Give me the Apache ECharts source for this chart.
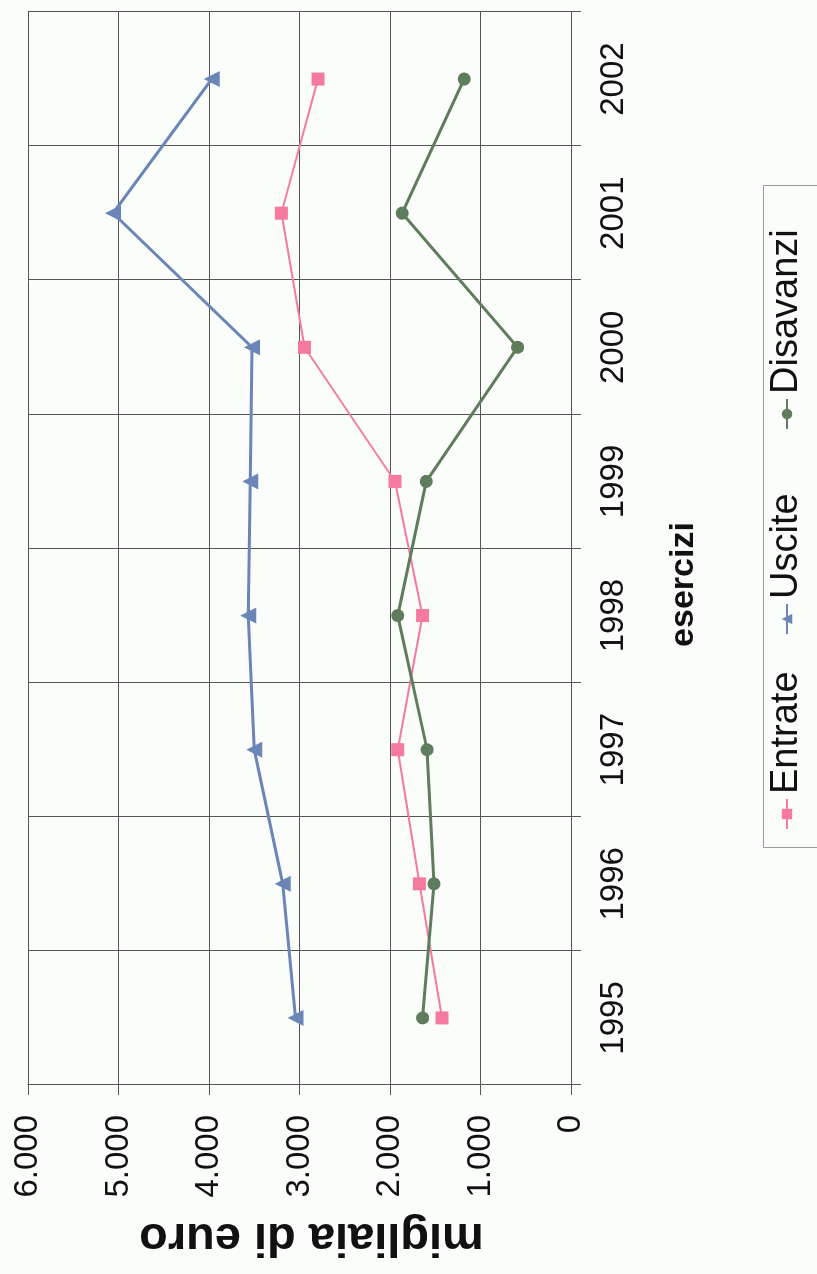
<!DOCTYPE html>
<html>
<head>
<meta charset="utf-8">
<script src="https://cdn.jsdelivr.net/npm/echarts@6/dist/echarts.min.js"></script>
<style>
  html, body { margin: 0; padding: 0; width: 817px; height: 1274px; overflow: hidden; background: #fbfdfb; }
  /* the chart is laid out in landscape and turned a quarter turn counter-clockwise */
  #chart {
    position: absolute; left: 0; top: 0;
    width: 1274px; height: 817px;
    transform-origin: 0 0;
    transform: translateY(1274px) rotate(-90deg);
  }
</style>
</head>
<body>
<div id="chart"></div>
<script>
// fiscal years
const years = ['1995', '1996', '1997', '1998', '1999', '2000', '2001', '2002'];
// thousands of euro
const entrate   = [1425, 1675, 1915, 1640, 1945, 2945, 3200, 2795];
const uscite    = [3045, 3185, 3500, 3565, 3545, 3525, 5060, 3970];
const disavanzi = [1640, 1515, 1590, 1915, 1600, 590, 1865, 1180];
const seriesNames = ['Entrate', 'Uscite', 'Disavanzi'];
const valueTicks = { min: 0, max: 6000, step: 1000 };

const FONT = '"Liberation Sans", Arial, sans-serif';
const gridColor = '#555';
const colors = { Entrate: '#f57a9e', Uscite: '#6b86b6', Disavanzi: '#5f7c5c' };

function fmtThousands(v) {
  return String(v).replace(/\B(?=(\d{3})+(?!\d))/g, '.');
}

// one legend entry per series so each sits in its own slot of the framed key
const legendSlots = [444, 639, 844];
const legends = seriesNames.map((n, i) => ({
  left: legendSlots[i], top: 768,
  padding: 0,
  itemWidth: 30, itemHeight: 13,
  textStyle: { fontFamily: FONT, fontSize: 38, color: '#111' },
  data: [n]
}));

const chart = echarts.init(document.getElementById('chart'), null, { renderer: 'canvas' });

chart.setOption({
  backgroundColor: '#fbfdfb',
  animation: false,
  textStyle: { fontFamily: FONT },
  grid: { left: 189, right: 12, top: 28, bottom: 246, containLabel: false },
  legend: legends,
  graphic: [{
    type: 'rect', left: 424, top: 761, silent: true,
    shape: { width: 662, height: 54 },
    style: { fill: null, stroke: '#9a9a9a', lineWidth: 1 }
  }],
  xAxis: {
    type: 'category',
    data: years,
    boundaryGap: true,
    axisLine: { show: true, lineStyle: { color: gridColor, width: 1 } },
    axisTick: { show: true, length: 10, inside: false, lineStyle: { color: gridColor } },
    axisLabel: { fontFamily: FONT, fontSize: 33, color: '#111', margin: 26 },
    splitLine: { show: true, lineStyle: { color: gridColor, width: 1 } },
    name: 'esercizi',
    nameLocation: 'middle',
    nameGap: 96,
    nameTextStyle: { fontFamily: FONT, fontSize: 34, fontWeight: 'bold', color: '#111', padding: [0, 72, 0, 0] }
  },
  yAxis: {
    type: 'value',
    min: valueTicks.min, max: valueTicks.max, interval: valueTicks.step,
    axisLine: { show: true, lineStyle: { color: gridColor, width: 1 } },
    axisTick: { show: true, length: 10, inside: false, lineStyle: { color: gridColor } },
    axisLabel: { fontFamily: FONT, fontSize: 33, color: '#111', margin: 30, formatter: fmtThousands },
    splitLine: { show: true, lineStyle: { color: gridColor, width: 1 } },
    name: 'migliaia di euro',
    nameLocation: 'middle',
    nameRotate: 90,
    nameGap: 128,
    nameTextStyle: { fontFamily: FONT, fontSize: 47, fontWeight: 'bold', color: '#111', padding: [0, 24, 0, 0] }
  },
  series: [
    {
      name: 'Entrate', type: 'line', data: entrate,
      symbol: 'rect', symbolSize: 13,
      lineStyle: { color: colors.Entrate, width: 2 },
      itemStyle: { color: colors.Entrate }
    },
    {
      name: 'Uscite', type: 'line', data: uscite,
      symbol: 'triangle', symbolSize: 16,
      lineStyle: { color: colors.Uscite, width: 3 },
      itemStyle: { color: colors.Uscite }
    },
    {
      name: 'Disavanzi', type: 'line', data: disavanzi,
      symbol: 'circle', symbolSize: 13,
      lineStyle: { color: colors.Disavanzi, width: 3 },
      itemStyle: { color: colors.Disavanzi }
    }
  ]
});
</script>
</body>
</html>
